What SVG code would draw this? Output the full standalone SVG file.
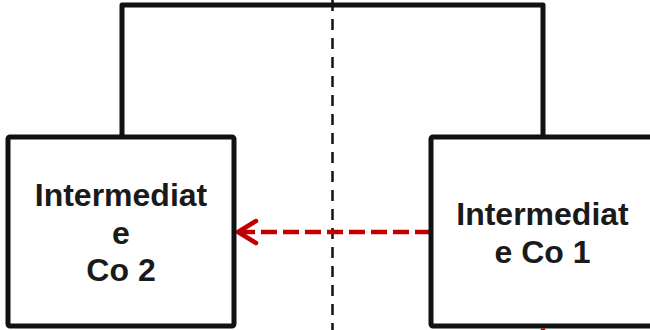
<svg xmlns="http://www.w3.org/2000/svg" width="650" height="330" viewBox="0 0 650 330">
<style>
.box{fill:#fff;stroke:#111;stroke-width:5;stroke-linejoin:round}
.lbl{font-family:"Liberation Sans",Arial,sans-serif;font-weight:bold;font-size:32px;fill:#1a1a1a;text-anchor:middle}
.conn{fill:none;stroke:#111;stroke-width:5;stroke-linejoin:round}
.divider{stroke:#111;stroke-width:2.5;stroke-dasharray:11 8}
.red{fill:none;stroke:#C00000;stroke-width:4.5}
</style>
<rect width="650" height="330" fill="#fff"/>
<g id="connectors">
<path class="conn" d="M122,137 V5 H543 V137"/>
<line class="divider" x1="332.5" y1="0" x2="332.5" y2="330"/>
<line class="red" x1="431" y1="232" x2="240" y2="232" stroke-dasharray="16 6"/>
<path class="red" d="M256,221 L238,232 L256,243" stroke-linecap="round" stroke-linejoin="round"/>
<line class="red" x1="543" y1="328.5" x2="543" y2="330" stroke-width="2"/>
</g>
<g id="node-co2">
<rect class="box" x="8" y="137" width="226" height="189" rx="2"/>
<text class="lbl" x="121" y="206">Intermediat</text>
<text class="lbl" x="121" y="243.5">e</text>
<text class="lbl" x="121" y="281">Co 2</text>
</g>
<g id="node-co1">
<rect class="box" x="431" y="137" width="226" height="189" rx="2"/>
<text class="lbl" x="542.5" y="225">Intermediat</text>
<text class="lbl" x="542.5" y="263">e Co 1</text>
</g>
</svg>
